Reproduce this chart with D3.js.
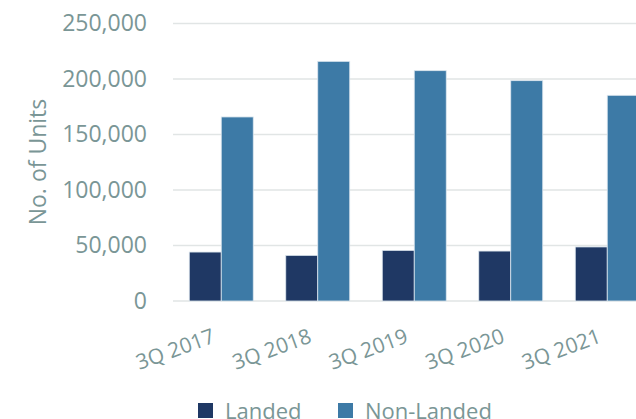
<!DOCTYPE html>
<html>
<head>
<meta charset="utf-8">
<script src="https://cdn.jsdelivr.net/npm/d3@7"></script>
<style>
  body { margin: 0; background: #fff; }
  svg { display: block; font-family: "Open Sans", sans-serif; }
</style>
</head>
<body>
<div id="chart"></div>
<script>
var quarters = ["3Q 2017", "3Q 2018", "3Q 2019", "3Q 2020", "3Q 2021"];
var landed = [44100, 41100, 45600, 45000, 48700];
var nonLanded = [165800, 215900, 207500, 198500, 185300];
var seriesNames = ["Landed", "Non-Landed"];
var yTicks = [0, 50000, 100000, 150000, 200000, 250000];

var colors = ["#1f3864", "#3d7aa6"];
var textColor = "#7a9696";

var width = 636, height = 419;
var margin = {top: 23.5, left: 173, bottom: 118};
var plotW = 482.5;

var svg = d3.select("#chart").append("svg")
    .attr("width", width)
    .attr("height", height);

var x0 = d3.scaleBand()
    .domain(quarters)
    .range([margin.left, margin.left + plotW])
    .paddingInner(0.337)
    .paddingOuter(0.1685);

var x1 = d3.scaleBand()
    .domain(seriesNames)
    .range([0, x0.bandwidth()]);

var y = d3.scaleLinear()
    .domain([0, 250000])
    .range([height - margin.bottom, margin.top]);

// gridlines
svg.append("g")
    .selectAll("line")
    .data(yTicks)
    .join("line")
    .attr("x1", margin.left)
    .attr("x2", margin.left + plotW)
    .attr("y1", function(d) { return y(d); })
    .attr("y2", function(d) { return y(d); })
    .attr("stroke", "#e1e5e5")
    .attr("stroke-width", 1.5);

// y axis labels
var yAxis = svg.append("g")
    .attr("transform", "translate(147,0)")
    .call(d3.axisLeft(y).tickValues(yTicks).tickSize(0).tickPadding(0)
        .tickFormat(d3.format(",")));
yAxis.select(".domain").remove();
yAxis.selectAll("text")
    .attr("fill", textColor)
    .style("font-size", "23px")
    .style("font-family", "'Open Sans', sans-serif");

// y title
svg.append("text")
    .attr("transform", "translate(46,162) rotate(-90)")
    .attr("text-anchor", "middle")
    .attr("fill", textColor)
    .style("font-size", "23px")
    .text("No. of Units");

// bars
var rows = quarters.map(function(q, i) {
    return {q: q, vals: [landed[i], nonLanded[i]]};
});

var groups = svg.append("g")
    .selectAll("g")
    .data(rows)
    .join("g")
    .attr("transform", function(d) { return "translate(" + x0(d.q) + ",0)"; });

groups.selectAll("rect")
    .data(function(d) {
        return d.vals.map(function(v, j) { return {name: seriesNames[j], v: v, j: j}; });
    })
    .join("rect")
    .attr("x", function(d) { return x1(d.name); })
    .attr("width", x1.bandwidth())
    .attr("y", function(d) { return y(d.v); })
    .attr("height", function(d) { return y(0) - y(d.v); })
    .attr("fill", function(d) { return colors[d.j]; })
    .attr("stroke", "#dce6ee")
    .attr("stroke-width", 0.8);

// x labels
var xAxis = svg.append("g")
    .call(d3.axisBottom(x0).tickSize(0).tickPadding(0));
xAxis.select(".domain").remove();
xAxis.selectAll(".tick").attr("transform", null);
xAxis.selectAll("text")
    .attr("fill", textColor)
    .style("font-size", "21px")
    .style("font-family", "'Open Sans', sans-serif")
    .attr("text-anchor", "end")
    .attr("y", 0)
    .attr("dy", 0)
    .attr("transform", function(d) {
        return "translate(" + (x0(d) + x0.bandwidth() / 2 - 5) + ",342) rotate(-20)";
    });

// legend
var legend = svg.append("g")
    .selectAll("g")
    .data(seriesNames)
    .join("g")
    .attr("transform", function(d, i) { return "translate(" + [198, 338][i] + ",403)"; });

legend.append("rect")
    .attr("width", 15)
    .attr("height", 15)
    .attr("fill", function(d, i) { return colors[i]; });

legend.append("text")
    .attr("x", 27)
    .attr("y", 15.5)
    .attr("fill", textColor)
    .style("font-size", "22px")
    .text(function(d) { return d; });
</script>
</body>
</html>
